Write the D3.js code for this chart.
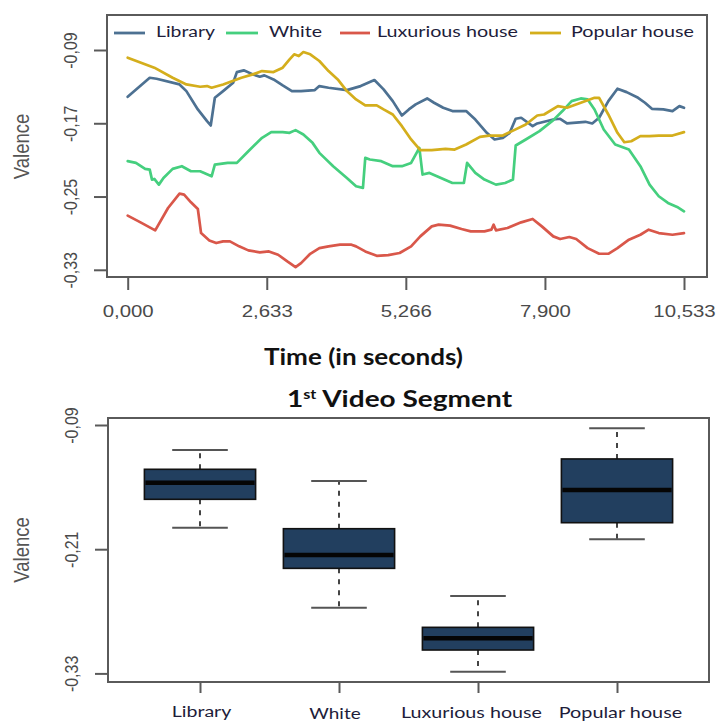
<!DOCTYPE html>
<html><head><meta charset="utf-8">
<script src="https://cdn.jsdelivr.net/npm/d3@7"></script>
<style>html,body{margin:0;padding:0;background:#fff;overflow:hidden}</style>
</head><body>
<svg id="c" width="718" height="723"></svg>
<script>
// ---------- DATA ----------
const seriesNames = ["Library", "White", "Luxurious house", "Popular house"];
const seriesColors = ["#4d7192", "#45cf7e", "#d9574a", "#d4ae1c"];

const libraryData = [[0,-0.1411],[0.417,-0.1203],[0.547,-0.1214],[0.981,-0.1276],[1.111,-0.1349],[1.328,-0.1549],[1.502,-0.1677],[1.572,-0.1724],[1.650,-0.1422],[1.806,-0.1349],[1.997,-0.1257],[2.067,-0.1141],[2.197,-0.1122],[2.370,-0.1166],[2.501,-0.1192],[2.588,-0.1177],[2.761,-0.1221],[2.935,-0.1287],[3.109,-0.1349],[3.282,-0.1349],[3.543,-0.1338],[3.629,-0.1294],[3.803,-0.1312],[4.150,-0.1338],[4.411,-0.1294],[4.671,-0.1228],[4.845,-0.1330],[5.019,-0.1458],[5.192,-0.1615],[5.323,-0.1549],[5.453,-0.1494],[5.670,-0.1429],[5.800,-0.1476],[5.974,-0.1531],[6.148,-0.1567],[6.408,-0.1567],[6.582,-0.1659],[6.799,-0.1804],[6.946,-0.1877],[7.103,-0.1859],[7.233,-0.1804],[7.346,-0.1651],[7.450,-0.1640],[7.667,-0.1732],[7.754,-0.1702],[8.058,-0.1659],[8.188,-0.1651],[8.318,-0.1702],[8.666,-0.1684],[8.796,-0.1702],[8.926,-0.1640],[9.100,-0.1458],[9.273,-0.1323],[9.447,-0.1360],[9.664,-0.1422],[9.794,-0.1476],[9.925,-0.1542],[10.142,-0.1549],[10.315,-0.1567],[10.446,-0.1513],[10.533,-0.1531]];

const whiteData = [[0,-0.2114],[0.156,-0.2133],[0.330,-0.2198],[0.417,-0.2206],[0.460,-0.2315],[0.504,-0.2308],[0.590,-0.2370],[0.677,-0.2297],[0.851,-0.2198],[1.025,-0.2169],[1.198,-0.2224],[1.372,-0.2224],[1.589,-0.2279],[1.650,-0.2151],[1.893,-0.2133],[2.067,-0.2133],[2.284,-0.2005],[2.544,-0.1859],[2.718,-0.1797],[2.935,-0.1797],[3.065,-0.1804],[3.178,-0.1775],[3.326,-0.1823],[3.500,-0.1914],[3.629,-0.2023],[3.890,-0.2169],[4.150,-0.2297],[4.324,-0.2388],[4.454,-0.2406],[4.498,-0.2078],[4.585,-0.2096],[4.802,-0.2114],[5.019,-0.2169],[5.192,-0.2169],[5.366,-0.2133],[5.522,-0.1969],[5.583,-0.2260],[5.714,-0.2242],[5.931,-0.2297],[6.148,-0.2352],[6.365,-0.2352],[6.426,-0.2133],[6.582,-0.2242],[6.755,-0.2315],[6.972,-0.2370],[7.146,-0.2352],[7.294,-0.2315],[7.346,-0.1943],[7.537,-0.1877],[7.797,-0.1786],[8.058,-0.1666],[8.232,-0.1567],[8.405,-0.1458],[8.579,-0.1429],[8.709,-0.1440],[8.839,-0.1549],[9.013,-0.1768],[9.230,-0.1932],[9.490,-0.1987],[9.707,-0.2169],[9.881,-0.2370],[10.055,-0.2497],[10.229,-0.2570],[10.403,-0.2614],[10.533,-0.2661]];

const luxuriousData = [[0,-0.2709],[0.243,-0.2782],[0.521,-0.2869],[0.764,-0.2625],[0.981,-0.2468],[1.068,-0.2479],[1.198,-0.2563],[1.328,-0.2636],[1.389,-0.2899],[1.546,-0.2979],[1.676,-0.3008],[1.806,-0.2990],[1.936,-0.2990],[2.110,-0.3044],[2.284,-0.3088],[2.501,-0.3110],[2.674,-0.3099],[2.848,-0.3136],[3.022,-0.3209],[3.178,-0.3271],[3.282,-0.3227],[3.456,-0.3125],[3.629,-0.3063],[3.803,-0.3044],[4.020,-0.3026],[4.237,-0.3026],[4.324,-0.3044],[4.498,-0.3099],[4.715,-0.3147],[4.932,-0.3139],[5.149,-0.3117],[5.366,-0.3044],[5.540,-0.2935],[5.757,-0.2826],[5.887,-0.2807],[6.104,-0.2818],[6.321,-0.2855],[6.495,-0.2880],[6.755,-0.2880],[6.886,-0.2862],[6.929,-0.2807],[6.972,-0.2869],[7.190,-0.2844],[7.450,-0.2782],[7.667,-0.2745],[7.841,-0.2826],[8.058,-0.2935],[8.188,-0.2964],[8.362,-0.2942],[8.492,-0.2964],[8.709,-0.3063],[8.926,-0.3125],[9.100,-0.3125],[9.273,-0.3063],[9.490,-0.2971],[9.707,-0.2917],[9.864,-0.2862],[10.055,-0.2899],[10.315,-0.2917],[10.533,-0.2899]];

const popularData = [[0,-0.0984],[0.504,-0.1093],[0.851,-0.1203],[1.111,-0.1276],[1.372,-0.1301],[1.502,-0.1294],[1.589,-0.1312],[1.806,-0.1276],[2.153,-0.1203],[2.370,-0.1166],[2.544,-0.1130],[2.761,-0.1141],[2.935,-0.1093],[3.065,-0.1002],[3.152,-0.0947],[3.239,-0.0966],[3.326,-0.0922],[3.456,-0.0947],[3.629,-0.1020],[3.803,-0.1130],[3.977,-0.1221],[4.150,-0.1349],[4.324,-0.1440],[4.498,-0.1505],[4.715,-0.1505],[4.845,-0.1549],[5.019,-0.1604],[5.192,-0.1732],[5.366,-0.1877],[5.540,-0.1994],[5.757,-0.1994],[6.017,-0.1980],[6.191,-0.1987],[6.408,-0.1932],[6.669,-0.1848],[6.842,-0.1834],[7.103,-0.1834],[7.276,-0.1786],[7.537,-0.1713],[7.754,-0.1615],[7.884,-0.1604],[8.145,-0.1513],[8.318,-0.1531],[8.579,-0.1476],[8.839,-0.1422],[8.926,-0.1422],[9.100,-0.1604],[9.273,-0.1804],[9.403,-0.1907],[9.534,-0.1896],[9.707,-0.1841],[9.881,-0.1841],[10.055,-0.1834],[10.315,-0.1834],[10.533,-0.1797]];

const xTicks = [0, 2.633, 5.266, 7.9, 10.533];
const xTickLabels = ["0,000", "2,633", "5,266", "7,900", "10,533"];
const yTicksTop = [-0.09, -0.17, -0.25, -0.33];
const yTickLabelsTop = ["-0,09", "-0,17", "-0,25", "-0,33"];

// boxplot (1st video segment)
const boxCategories = ["Library", "White", "Luxurious house", "Popular house"];
const whiskerLow = [-0.1892, -0.2665, -0.3284, -0.2004];
const q1 = [-0.1618, -0.2285, -0.3074, -0.1844];
const medians = [-0.1457, -0.2156, -0.2961, -0.1528];
const q3 = [-0.1328, -0.1902, -0.2855, -0.1228];
const whiskerHigh = [-0.1142, -0.1441, -0.2552, -0.0932];
const yTicksBottom = [-0.09, -0.21, -0.33];
const yTickLabelsBottom = ["-0,09", "-0,21", "-0,33"];

// ---------- LAYOUT ----------
const svg = d3.select("#c");
svg.append("rect").attr("width", 718).attr("height", 723).attr("fill", "#fff");
const FRAME = "#5a5a5a";
const sansR = "'Liberation Sans', Arial, sans-serif";
const humanist = "Lato, 'Open Sans', sans-serif";

function fitWidth(sel, left, width) {
  const w = sel.node().getBBox().width;
  const k = width / w;
  sel.attr("transform", `translate(${left},0) scale(${k},1) translate(${-left},0)`);
}

// ===== TOP LINE CHART =====
const topBox = {x0: 107, x1: 707, y0: 15, y1: 277};
const xTop = d3.scaleLinear().domain([0, 10.533]).range([127.7, 684]);
const yTop = d3.scaleLinear().domain([-0.09, -0.33]).range([50, 269.8]);

const allSeries = [libraryData, whiteData, luxuriousData, popularData];
const line = d3.line().x(d => xTop(d[0])).y(d => yTop(d[1]));
allSeries.forEach((s, i) => {
  svg.append("path").attr("d", line(s)).attr("fill", "none")
    .attr("stroke", seriesColors[i]).attr("stroke-width", 2.7)
    .attr("stroke-linejoin", "round").attr("stroke-linecap", "round");
});

svg.append("rect").attr("x", topBox.x0).attr("y", topBox.y0)
  .attr("width", topBox.x1 - topBox.x0).attr("height", topBox.y1 - topBox.y0)
  .attr("fill", "none").attr("stroke", FRAME).attr("stroke-width", 2);

// x axis
const gx = svg.append("g").attr("transform", `translate(0,${topBox.y1})`)
  .call(d3.axisBottom(xTop).tickValues(xTicks).tickFormat((d, i) => xTickLabels[i]).tickSize(13).tickSizeOuter(0));
gx.select(".domain").remove();
gx.selectAll(".tick line").attr("stroke", FRAME).attr("stroke-width", 2);
gx.selectAll(".tick text").attr("y", 40).attr("dy", 0)
  .attr("font-family", sansR).attr("font-size", 17).attr("fill", "#4a4a4a")
  .attr("transform", "scale(1.2,1)");

// y axis
const gy = svg.append("g").attr("transform", `translate(${topBox.x0},0)`)
  .call(d3.axisLeft(yTop).tickValues(yTicksTop).tickFormat((d, i) => yTickLabelsTop[i]).tickSize(13).tickSizeOuter(0));
gy.select(".domain").remove();
gy.selectAll(".tick line").attr("stroke", FRAME).attr("stroke-width", 2);
gy.selectAll(".tick text").attr("x", 0).attr("y", 0).attr("dy", 0)
  .attr("text-anchor", "middle")
  .attr("font-family", sansR).attr("font-size", 16).attr("fill", "#4a4a4a")
  .attr("transform", "translate(-30,0) scale(1.2,1) rotate(-90)");

svg.append("text").text("Valence")
  .attr("transform", "translate(28.5,146.5) scale(1.2,1) rotate(-90)")
  .attr("text-anchor", "middle").attr("font-family", sansR).attr("font-size", 18.5).attr("fill", "#555");

// legend
const legendLine = [[114, 145], [226, 258], [340, 370], [530, 561]];
const legendText = [[156, 60], [269, 53], [377, 141], [571, 123]];
seriesNames.forEach((n, i) => {
  svg.append("line").attr("x1", legendLine[i][0]).attr("x2", legendLine[i][1])
    .attr("y1", 33).attr("y2", 33).attr("stroke", seriesColors[i]).attr("stroke-width", 2.8);
  const t = svg.append("text").text(n).attr("x", legendText[i][0]).attr("y", 37)
    .attr("font-family", humanist).attr("font-size", 16).attr("fill", "#1e1d3a");
  fitWidth(t, legendText[i][0], legendText[i][1]);
});

// axis title
const tt = svg.append("text").text("Time (in seconds)").attr("x", 264).attr("y", 365)
  .attr("font-family", humanist).attr("font-weight", 700).attr("font-size", 22.5).attr("fill", "#111");
fitWidth(tt, 264, 199);

// ===== BOTTOM BOXPLOT =====
const botBox = {x0: 108, x1: 709, y0: 418, y1: 682};
const xBot = d3.scalePoint().domain(boxCategories).range([200, 617]);
const yBot = d3.scaleLinear().domain([-0.09, -0.33]).range([425, 673.4]);

const st = svg.append("text").attr("x", 287).attr("y", 406.7)
  .attr("font-family", humanist).attr("font-weight", 700).attr("font-size", 22.5).attr("fill", "#111");
st.append("tspan").text("1");
st.append("tspan").text("st").attr("font-size", 13).attr("dy", -8);
st.append("tspan").text(" Video Segment").attr("dy", 8);
fitWidth(st, 287, 226);

const boxW = xBot.step() * 0.8;
boxCategories.forEach((c, i) => {
  const cx = xBot(c);
  // whiskers
  svg.append("line").attr("x1", cx).attr("x2", cx).attr("y1", yBot(q3[i])).attr("y2", yBot(whiskerHigh[i]))
    .attr("stroke", "#444").attr("stroke-width", 2).attr("stroke-dasharray", "5,6");
  svg.append("line").attr("x1", cx).attr("x2", cx).attr("y1", yBot(q1[i])).attr("y2", yBot(whiskerLow[i]))
    .attr("stroke", "#444").attr("stroke-width", 2).attr("stroke-dasharray", "5,6");
  [whiskerHigh[i], whiskerLow[i]].forEach(v => {
    svg.append("line").attr("x1", cx - boxW / 4).attr("x2", cx + boxW / 4)
      .attr("y1", yBot(v)).attr("y2", yBot(v)).attr("stroke", "#555").attr("stroke-width", 2);
  });
  svg.append("rect").attr("x", cx - boxW / 2).attr("y", yBot(q3[i]))
    .attr("width", boxW).attr("height", yBot(q1[i]) - yBot(q3[i]))
    .attr("fill", "#223f5f").attr("stroke", "#111").attr("stroke-width", 1.6);
  svg.append("line").attr("x1", cx - boxW / 2 + 1).attr("x2", cx + boxW / 2 - 1)
    .attr("y1", yBot(medians[i])).attr("y2", yBot(medians[i]))
    .attr("stroke", "#050505").attr("stroke-width", 4.5);
});

svg.append("rect").attr("x", botBox.x0).attr("y", botBox.y0)
  .attr("width", botBox.x1 - botBox.x0).attr("height", botBox.y1 - botBox.y0)
  .attr("fill", "none").attr("stroke", FRAME).attr("stroke-width", 2);

const gbx = svg.append("g").attr("transform", `translate(0,${botBox.y1})`)
  .call(d3.axisBottom(xBot).tickFormat("").tickSize(11).tickSizeOuter(0));
gbx.select(".domain").remove();
gbx.selectAll(".tick line").attr("stroke", FRAME).attr("stroke-width", 2);

const catNudge = [2, -4, -6.5, 3.5];
const catBase = [717, 719, 718, 718];
const catWidth = [60.6, 51.4, 141, 123.6];
boxCategories.forEach((c, i) => {
  const left = xBot(c) + catNudge[i] - catWidth[i] / 2;
  const t = svg.append("text").text(c).attr("x", left).attr("y", catBase[i])
    .attr("font-family", humanist).attr("font-size", 16).attr("fill", "#1e1d3a");
  fitWidth(t, left, catWidth[i]);
});

const gby = svg.append("g").attr("transform", `translate(${botBox.x0},0)`)
  .call(d3.axisLeft(yBot).tickValues(yTicksBottom).tickFormat((d, i) => yTickLabelsBottom[i]).tickSize(13).tickSizeOuter(0));
gby.select(".domain").remove();
gby.selectAll(".tick line").attr("stroke", FRAME).attr("stroke-width", 2);
gby.selectAll(".tick text").attr("x", 0).attr("y", 0).attr("dy", 0)
  .attr("text-anchor", "middle")
  .attr("font-family", sansR).attr("font-size", 16).attr("fill", "#4a4a4a")
  .attr("transform", "translate(-30,0) scale(1.2,1) rotate(-90)");

svg.append("text").text("Valence")
  .attr("transform", "translate(28.5,550) scale(1.2,1) rotate(-90)")
  .attr("text-anchor", "middle").attr("font-family", sansR).attr("font-size", 18.5).attr("fill", "#555");
</script>
</body></html>
